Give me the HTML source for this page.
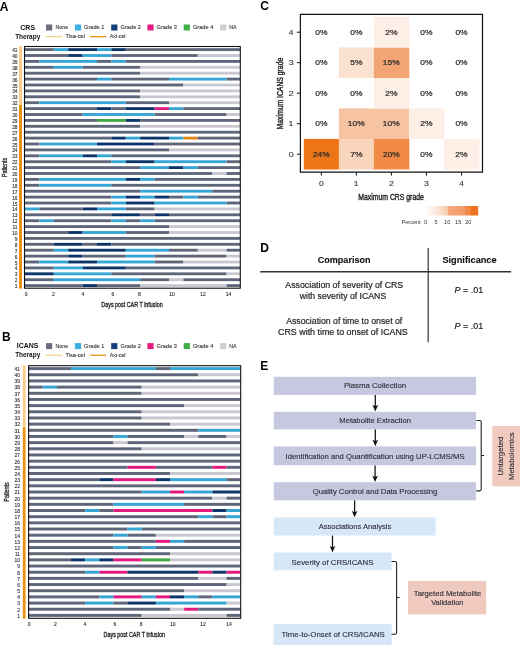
<!DOCTYPE html>
<html><head><meta charset="utf-8"><title>Figure</title>
<style>
html,body{margin:0;padding:0;background:#fff;}
body{width:520px;height:645px;overflow:hidden;font-family:"Liberation Sans", sans-serif;}
svg{display:block;will-change:transform;}
</style></head><body>
<svg width="520" height="645" viewBox="0 0 520 645" font-family='"Liberation Sans", sans-serif'>
<rect width="520" height="645" fill="#ffffff"/>
<clipPath id="clipA"><rect x="24.5" y="46.5" width="215.8" height="241.7"/></clipPath>
<g clip-path="url(#clipA)">
<rect x="25.00" y="48.18" width="28.80" height="2.85" fill="#60667a"/>
<rect x="53.80" y="48.18" width="14.40" height="2.85" fill="#35a5d5"/>
<rect x="68.20" y="48.18" width="28.80" height="2.85" fill="#0c3468"/>
<rect x="97.00" y="48.18" width="14.40" height="2.85" fill="#35a5d5"/>
<rect x="111.40" y="48.18" width="14.40" height="2.85" fill="#0c3468"/>
<rect x="125.80" y="48.18" width="115.20" height="2.85" fill="#60667a"/>
<rect x="25.00" y="54.08" width="43.20" height="2.85" fill="#60667a"/>
<rect x="68.20" y="54.08" width="14.40" height="2.85" fill="#0c3468"/>
<rect x="82.60" y="54.08" width="28.80" height="2.85" fill="#35a5d5"/>
<rect x="111.40" y="54.08" width="86.40" height="2.85" fill="#60667a"/>
<rect x="197.80" y="54.08" width="43.20" height="2.85" fill="#c9c7d0"/>
<rect x="25.00" y="59.98" width="14.40" height="2.85" fill="#60667a"/>
<rect x="39.40" y="59.98" width="57.60" height="2.85" fill="#35a5d5"/>
<rect x="97.00" y="59.98" width="14.40" height="2.85" fill="#60667a"/>
<rect x="111.40" y="59.98" width="14.40" height="2.85" fill="#35a5d5"/>
<rect x="125.80" y="59.98" width="115.20" height="2.85" fill="#60667a"/>
<rect x="25.00" y="65.88" width="28.80" height="2.85" fill="#60667a"/>
<rect x="53.80" y="65.88" width="28.80" height="2.85" fill="#35a5d5"/>
<rect x="82.60" y="65.88" width="57.60" height="2.85" fill="#60667a"/>
<rect x="140.20" y="65.88" width="100.80" height="2.85" fill="#c9c7d0"/>
<rect x="25.00" y="71.78" width="115.20" height="2.85" fill="#60667a"/>
<rect x="140.20" y="71.78" width="100.80" height="2.85" fill="#c9c7d0"/>
<rect x="25.00" y="77.67" width="72.00" height="2.85" fill="#60667a"/>
<rect x="97.00" y="77.67" width="14.40" height="2.85" fill="#35a5d5"/>
<rect x="111.40" y="77.67" width="57.60" height="2.85" fill="#60667a"/>
<rect x="169.00" y="77.67" width="57.60" height="2.85" fill="#35a5d5"/>
<rect x="226.60" y="77.67" width="14.40" height="2.85" fill="#60667a"/>
<rect x="25.00" y="83.58" width="158.40" height="2.85" fill="#60667a"/>
<rect x="183.40" y="83.58" width="57.60" height="2.85" fill="#c9c7d0"/>
<rect x="25.00" y="89.48" width="115.20" height="2.85" fill="#60667a"/>
<rect x="140.20" y="89.48" width="100.80" height="2.85" fill="#c9c7d0"/>
<rect x="25.00" y="95.38" width="115.20" height="2.85" fill="#60667a"/>
<rect x="140.20" y="95.38" width="100.80" height="2.85" fill="#c9c7d0"/>
<rect x="25.00" y="101.28" width="14.40" height="2.85" fill="#60667a"/>
<rect x="39.40" y="101.28" width="86.40" height="2.85" fill="#35a5d5"/>
<rect x="125.80" y="101.28" width="43.20" height="2.85" fill="#60667a"/>
<rect x="169.00" y="101.28" width="72.00" height="2.85" fill="#c9c7d0"/>
<rect x="25.00" y="107.17" width="72.00" height="2.85" fill="#60667a"/>
<rect x="97.00" y="107.17" width="14.40" height="2.85" fill="#0c3468"/>
<rect x="111.40" y="107.17" width="14.40" height="2.85" fill="#60667a"/>
<rect x="125.80" y="107.17" width="28.80" height="2.85" fill="#0c3468"/>
<rect x="154.60" y="107.17" width="14.40" height="2.85" fill="#e3197e"/>
<rect x="169.00" y="107.17" width="14.40" height="2.85" fill="#35a5d5"/>
<rect x="183.40" y="107.17" width="57.60" height="2.85" fill="#60667a"/>
<rect x="25.00" y="113.08" width="57.60" height="2.85" fill="#60667a"/>
<rect x="82.60" y="113.08" width="72.00" height="2.85" fill="#35a5d5"/>
<rect x="154.60" y="113.08" width="72.00" height="2.85" fill="#60667a"/>
<rect x="226.60" y="113.08" width="14.40" height="2.85" fill="#c9c7d0"/>
<rect x="25.00" y="118.98" width="72.00" height="2.85" fill="#60667a"/>
<rect x="97.00" y="118.98" width="28.80" height="2.85" fill="#3fa843"/>
<rect x="125.80" y="118.98" width="14.40" height="2.85" fill="#0c3468"/>
<rect x="140.20" y="118.98" width="100.80" height="2.85" fill="#60667a"/>
<rect x="25.00" y="124.88" width="115.20" height="2.85" fill="#60667a"/>
<rect x="140.20" y="124.88" width="100.80" height="2.85" fill="#c9c7d0"/>
<rect x="25.00" y="130.78" width="216.00" height="2.85" fill="#60667a"/>
<rect x="25.00" y="136.67" width="86.40" height="2.85" fill="#60667a"/>
<rect x="111.40" y="136.67" width="14.40" height="2.85" fill="#0c3468"/>
<rect x="125.80" y="136.67" width="14.40" height="2.85" fill="#35a5d5"/>
<rect x="140.20" y="136.67" width="28.80" height="2.85" fill="#0c3468"/>
<rect x="169.00" y="136.67" width="14.40" height="2.85" fill="#35a5d5"/>
<rect x="183.40" y="136.67" width="14.40" height="2.85" fill="#e0861a"/>
<rect x="197.80" y="136.67" width="43.20" height="2.85" fill="#60667a"/>
<rect x="25.00" y="142.57" width="14.40" height="2.85" fill="#60667a"/>
<rect x="39.40" y="142.57" width="57.60" height="2.85" fill="#35a5d5"/>
<rect x="97.00" y="142.57" width="57.60" height="2.85" fill="#0c3468"/>
<rect x="154.60" y="142.57" width="86.40" height="2.85" fill="#60667a"/>
<rect x="25.00" y="148.47" width="144.00" height="2.85" fill="#60667a"/>
<rect x="169.00" y="148.47" width="72.00" height="2.85" fill="#c9c7d0"/>
<rect x="25.00" y="154.38" width="14.40" height="2.85" fill="#60667a"/>
<rect x="39.40" y="154.38" width="43.20" height="2.85" fill="#35a5d5"/>
<rect x="82.60" y="154.38" width="14.40" height="2.85" fill="#0c3468"/>
<rect x="97.00" y="154.38" width="14.40" height="2.85" fill="#35a5d5"/>
<rect x="111.40" y="154.38" width="129.60" height="2.85" fill="#60667a"/>
<rect x="25.00" y="160.28" width="86.40" height="2.85" fill="#60667a"/>
<rect x="111.40" y="160.28" width="14.40" height="2.85" fill="#35a5d5"/>
<rect x="125.80" y="160.28" width="28.80" height="2.85" fill="#0c3468"/>
<rect x="154.60" y="160.28" width="72.00" height="2.85" fill="#35a5d5"/>
<rect x="226.60" y="160.28" width="14.40" height="2.85" fill="#60667a"/>
<rect x="25.00" y="166.17" width="115.20" height="2.85" fill="#60667a"/>
<rect x="140.20" y="166.17" width="28.80" height="2.85" fill="#35a5d5"/>
<rect x="169.00" y="166.17" width="14.40" height="2.85" fill="#0c3468"/>
<rect x="183.40" y="166.17" width="14.40" height="2.85" fill="#35a5d5"/>
<rect x="197.80" y="166.17" width="43.20" height="2.85" fill="#60667a"/>
<rect x="25.00" y="172.07" width="187.20" height="2.85" fill="#60667a"/>
<rect x="212.20" y="172.07" width="14.40" height="2.85" fill="#c9c7d0"/>
<rect x="226.60" y="172.07" width="14.40" height="2.85" fill="#60667a"/>
<rect x="25.00" y="177.97" width="14.40" height="2.85" fill="#60667a"/>
<rect x="39.40" y="177.97" width="86.40" height="2.85" fill="#35a5d5"/>
<rect x="125.80" y="177.97" width="14.40" height="2.85" fill="#0c3468"/>
<rect x="140.20" y="177.97" width="14.40" height="2.85" fill="#35a5d5"/>
<rect x="154.60" y="177.97" width="86.40" height="2.85" fill="#60667a"/>
<rect x="25.00" y="183.88" width="14.40" height="2.85" fill="#60667a"/>
<rect x="39.40" y="183.88" width="72.00" height="2.85" fill="#35a5d5"/>
<rect x="111.40" y="183.88" width="129.60" height="2.85" fill="#60667a"/>
<rect x="25.00" y="189.78" width="115.20" height="2.85" fill="#60667a"/>
<rect x="140.20" y="189.78" width="72.00" height="2.85" fill="#35a5d5"/>
<rect x="212.20" y="189.78" width="28.80" height="2.85" fill="#60667a"/>
<rect x="25.00" y="195.67" width="86.40" height="2.85" fill="#60667a"/>
<rect x="111.40" y="195.67" width="14.40" height="2.85" fill="#35a5d5"/>
<rect x="125.80" y="195.67" width="14.40" height="2.85" fill="#0c3468"/>
<rect x="140.20" y="195.67" width="14.40" height="2.85" fill="#35a5d5"/>
<rect x="154.60" y="195.67" width="14.40" height="2.85" fill="#0c3468"/>
<rect x="169.00" y="195.67" width="14.40" height="2.85" fill="#60667a"/>
<rect x="183.40" y="195.67" width="14.40" height="2.85" fill="#35a5d5"/>
<rect x="197.80" y="195.67" width="43.20" height="2.85" fill="#60667a"/>
<rect x="25.00" y="201.57" width="86.40" height="2.85" fill="#60667a"/>
<rect x="111.40" y="201.57" width="14.40" height="2.85" fill="#35a5d5"/>
<rect x="125.80" y="201.57" width="28.80" height="2.85" fill="#0c3468"/>
<rect x="154.60" y="201.57" width="72.00" height="2.85" fill="#35a5d5"/>
<rect x="226.60" y="201.57" width="14.40" height="2.85" fill="#60667a"/>
<rect x="25.00" y="207.47" width="14.40" height="2.85" fill="#35a5d5"/>
<rect x="39.40" y="207.47" width="43.20" height="2.85" fill="#60667a"/>
<rect x="82.60" y="207.47" width="14.40" height="2.85" fill="#0c3468"/>
<rect x="97.00" y="207.47" width="28.80" height="2.85" fill="#35a5d5"/>
<rect x="125.80" y="207.47" width="28.80" height="2.85" fill="#60667a"/>
<rect x="154.60" y="207.47" width="86.40" height="2.85" fill="#c9c7d0"/>
<rect x="25.00" y="213.38" width="86.40" height="2.85" fill="#60667a"/>
<rect x="111.40" y="213.38" width="28.80" height="2.85" fill="#0c3468"/>
<rect x="140.20" y="213.38" width="14.40" height="2.85" fill="#60667a"/>
<rect x="154.60" y="213.38" width="14.40" height="2.85" fill="#0c3468"/>
<rect x="169.00" y="213.38" width="72.00" height="2.85" fill="#60667a"/>
<rect x="25.00" y="219.28" width="14.40" height="2.85" fill="#60667a"/>
<rect x="39.40" y="219.28" width="14.40" height="2.85" fill="#35a5d5"/>
<rect x="53.80" y="219.28" width="57.60" height="2.85" fill="#60667a"/>
<rect x="111.40" y="219.28" width="14.40" height="2.85" fill="#35a5d5"/>
<rect x="125.80" y="219.28" width="14.40" height="2.85" fill="#60667a"/>
<rect x="140.20" y="219.28" width="14.40" height="2.85" fill="#35a5d5"/>
<rect x="154.60" y="219.28" width="86.40" height="2.85" fill="#60667a"/>
<rect x="25.00" y="225.17" width="144.00" height="2.85" fill="#60667a"/>
<rect x="169.00" y="225.17" width="72.00" height="2.85" fill="#c9c7d0"/>
<rect x="25.00" y="231.07" width="43.20" height="2.85" fill="#60667a"/>
<rect x="68.20" y="231.07" width="14.40" height="2.85" fill="#0c3468"/>
<rect x="82.60" y="231.07" width="43.20" height="2.85" fill="#35a5d5"/>
<rect x="125.80" y="231.07" width="43.20" height="2.85" fill="#60667a"/>
<rect x="169.00" y="231.07" width="72.00" height="2.85" fill="#c9c7d0"/>
<rect x="25.00" y="236.97" width="216.00" height="2.85" fill="#60667a"/>
<rect x="25.00" y="242.88" width="28.80" height="2.85" fill="#60667a"/>
<rect x="53.80" y="242.88" width="28.80" height="2.85" fill="#0c3468"/>
<rect x="82.60" y="242.88" width="14.40" height="2.85" fill="#60667a"/>
<rect x="97.00" y="242.88" width="14.40" height="2.85" fill="#0c3468"/>
<rect x="111.40" y="242.88" width="129.60" height="2.85" fill="#60667a"/>
<rect x="25.00" y="248.78" width="28.80" height="2.85" fill="#60667a"/>
<rect x="53.80" y="248.78" width="14.40" height="2.85" fill="#35a5d5"/>
<rect x="68.20" y="248.78" width="57.60" height="2.85" fill="#0c3468"/>
<rect x="125.80" y="248.78" width="43.20" height="2.85" fill="#35a5d5"/>
<rect x="169.00" y="248.78" width="28.80" height="2.85" fill="#60667a"/>
<rect x="197.80" y="248.78" width="28.80" height="2.85" fill="#c9c7d0"/>
<rect x="226.60" y="248.78" width="14.40" height="2.85" fill="#60667a"/>
<rect x="25.00" y="254.68" width="43.20" height="2.85" fill="#60667a"/>
<rect x="68.20" y="254.68" width="14.40" height="2.85" fill="#0c3468"/>
<rect x="82.60" y="254.68" width="43.20" height="2.85" fill="#60667a"/>
<rect x="125.80" y="254.68" width="28.80" height="2.85" fill="#35a5d5"/>
<rect x="154.60" y="254.68" width="72.00" height="2.85" fill="#60667a"/>
<rect x="226.60" y="254.68" width="14.40" height="2.85" fill="#c9c7d0"/>
<rect x="25.00" y="260.57" width="14.40" height="2.85" fill="#60667a"/>
<rect x="39.40" y="260.57" width="28.80" height="2.85" fill="#35a5d5"/>
<rect x="68.20" y="260.57" width="28.80" height="2.85" fill="#0c3468"/>
<rect x="97.00" y="260.57" width="57.60" height="2.85" fill="#35a5d5"/>
<rect x="154.60" y="260.57" width="28.80" height="2.85" fill="#60667a"/>
<rect x="183.40" y="260.57" width="57.60" height="2.85" fill="#c9c7d0"/>
<rect x="25.00" y="266.48" width="28.80" height="2.85" fill="#60667a"/>
<rect x="53.80" y="266.48" width="28.80" height="2.85" fill="#35a5d5"/>
<rect x="82.60" y="266.48" width="43.20" height="2.85" fill="#0c3468"/>
<rect x="125.80" y="266.48" width="115.20" height="2.85" fill="#60667a"/>
<rect x="25.00" y="272.38" width="28.80" height="2.85" fill="#0c3468"/>
<rect x="53.80" y="272.38" width="57.60" height="2.85" fill="#35a5d5"/>
<rect x="111.40" y="272.38" width="115.20" height="2.85" fill="#60667a"/>
<rect x="226.60" y="272.38" width="14.40" height="2.85" fill="#c9c7d0"/>
<rect x="25.00" y="278.28" width="28.80" height="2.85" fill="#60667a"/>
<rect x="53.80" y="278.28" width="86.40" height="2.85" fill="#35a5d5"/>
<rect x="140.20" y="278.28" width="28.80" height="2.85" fill="#60667a"/>
<rect x="169.00" y="278.28" width="14.40" height="2.85" fill="#c9c7d0"/>
<rect x="183.40" y="278.28" width="57.60" height="2.85" fill="#60667a"/>
<rect x="25.00" y="284.18" width="57.60" height="2.85" fill="#60667a"/>
<rect x="82.60" y="284.18" width="14.40" height="2.85" fill="#0c3468"/>
<rect x="97.00" y="284.18" width="43.20" height="2.85" fill="#60667a"/>
<rect x="140.20" y="284.18" width="86.40" height="2.85" fill="#c9c7d0"/>
<rect x="226.60" y="284.18" width="14.40" height="2.85" fill="#60667a"/>
</g>
<rect x="24.5" y="46.5" width="215.8" height="241.7" fill="none" stroke="#111" stroke-width="1.1"/>
<rect x="19.0" y="46.1" width="3.0" height="58.9" fill="#f7cd88"/>
<rect x="19.0" y="105.0" width="3.0" height="183.6" fill="#e99314"/>
<text x="17.60" y="288.15" font-size="4.9" text-anchor="end" fill="#333" stroke="#333" stroke-width="0.12">1</text>
<text x="17.60" y="282.25" font-size="4.9" text-anchor="end" fill="#333" stroke="#333" stroke-width="0.12">2</text>
<text x="17.60" y="276.35" font-size="4.9" text-anchor="end" fill="#333" stroke="#333" stroke-width="0.12">3</text>
<text x="17.60" y="270.45" font-size="4.9" text-anchor="end" fill="#333" stroke="#333" stroke-width="0.12">4</text>
<text x="17.60" y="264.55" font-size="4.9" text-anchor="end" fill="#333" stroke="#333" stroke-width="0.12">5</text>
<text x="17.60" y="258.65" font-size="4.9" text-anchor="end" fill="#333" stroke="#333" stroke-width="0.12">6</text>
<text x="17.60" y="252.75" font-size="4.9" text-anchor="end" fill="#333" stroke="#333" stroke-width="0.12">7</text>
<text x="17.60" y="246.85" font-size="4.9" text-anchor="end" fill="#333" stroke="#333" stroke-width="0.12">8</text>
<text x="17.60" y="240.95" font-size="4.9" text-anchor="end" fill="#333" stroke="#333" stroke-width="0.12">9</text>
<text x="17.60" y="235.05" font-size="4.9" text-anchor="end" fill="#333" stroke="#333" stroke-width="0.12">10</text>
<text x="17.60" y="229.15" font-size="4.9" text-anchor="end" fill="#333" stroke="#333" stroke-width="0.12">11</text>
<text x="17.60" y="223.25" font-size="4.9" text-anchor="end" fill="#333" stroke="#333" stroke-width="0.12">12</text>
<text x="17.60" y="217.35" font-size="4.9" text-anchor="end" fill="#333" stroke="#333" stroke-width="0.12">13</text>
<text x="17.60" y="211.45" font-size="4.9" text-anchor="end" fill="#333" stroke="#333" stroke-width="0.12">14</text>
<text x="17.60" y="205.55" font-size="4.9" text-anchor="end" fill="#333" stroke="#333" stroke-width="0.12">15</text>
<text x="17.60" y="199.65" font-size="4.9" text-anchor="end" fill="#333" stroke="#333" stroke-width="0.12">16</text>
<text x="17.60" y="193.75" font-size="4.9" text-anchor="end" fill="#333" stroke="#333" stroke-width="0.12">17</text>
<text x="17.60" y="187.85" font-size="4.9" text-anchor="end" fill="#333" stroke="#333" stroke-width="0.12">18</text>
<text x="17.60" y="181.95" font-size="4.9" text-anchor="end" fill="#333" stroke="#333" stroke-width="0.12">19</text>
<text x="17.60" y="176.05" font-size="4.9" text-anchor="end" fill="#333" stroke="#333" stroke-width="0.12">20</text>
<text x="17.60" y="170.15" font-size="4.9" text-anchor="end" fill="#333" stroke="#333" stroke-width="0.12">21</text>
<text x="17.60" y="164.25" font-size="4.9" text-anchor="end" fill="#333" stroke="#333" stroke-width="0.12">22</text>
<text x="17.60" y="158.35" font-size="4.9" text-anchor="end" fill="#333" stroke="#333" stroke-width="0.12">23</text>
<text x="17.60" y="152.45" font-size="4.9" text-anchor="end" fill="#333" stroke="#333" stroke-width="0.12">24</text>
<text x="17.60" y="146.55" font-size="4.9" text-anchor="end" fill="#333" stroke="#333" stroke-width="0.12">25</text>
<text x="17.60" y="140.65" font-size="4.9" text-anchor="end" fill="#333" stroke="#333" stroke-width="0.12">26</text>
<text x="17.60" y="134.75" font-size="4.9" text-anchor="end" fill="#333" stroke="#333" stroke-width="0.12">27</text>
<text x="17.60" y="128.85" font-size="4.9" text-anchor="end" fill="#333" stroke="#333" stroke-width="0.12">28</text>
<text x="17.60" y="122.95" font-size="4.9" text-anchor="end" fill="#333" stroke="#333" stroke-width="0.12">29</text>
<text x="17.60" y="117.05" font-size="4.9" text-anchor="end" fill="#333" stroke="#333" stroke-width="0.12">30</text>
<text x="17.60" y="111.15" font-size="4.9" text-anchor="end" fill="#333" stroke="#333" stroke-width="0.12">31</text>
<text x="17.60" y="105.25" font-size="4.9" text-anchor="end" fill="#333" stroke="#333" stroke-width="0.12">32</text>
<text x="17.60" y="99.35" font-size="4.9" text-anchor="end" fill="#333" stroke="#333" stroke-width="0.12">33</text>
<text x="17.60" y="93.45" font-size="4.9" text-anchor="end" fill="#333" stroke="#333" stroke-width="0.12">34</text>
<text x="17.60" y="87.55" font-size="4.9" text-anchor="end" fill="#333" stroke="#333" stroke-width="0.12">35</text>
<text x="17.60" y="81.65" font-size="4.9" text-anchor="end" fill="#333" stroke="#333" stroke-width="0.12">36</text>
<text x="17.60" y="75.75" font-size="4.9" text-anchor="end" fill="#333" stroke="#333" stroke-width="0.12">37</text>
<text x="17.60" y="69.85" font-size="4.9" text-anchor="end" fill="#333" stroke="#333" stroke-width="0.12">38</text>
<text x="17.60" y="63.95" font-size="4.9" text-anchor="end" fill="#333" stroke="#333" stroke-width="0.12">39</text>
<text x="17.60" y="58.05" font-size="4.9" text-anchor="end" fill="#333" stroke="#333" stroke-width="0.12">40</text>
<text x="17.60" y="52.15" font-size="4.9" text-anchor="end" fill="#333" stroke="#333" stroke-width="0.12">41</text>
<text x="26.20" y="296.20" font-size="5.0" text-anchor="middle" fill="#333" stroke="#333" stroke-width="0.12">0</text>
<text x="53.50" y="296.20" font-size="5.0" text-anchor="middle" fill="#333" stroke="#333" stroke-width="0.12">2</text>
<text x="83.00" y="296.20" font-size="5.0" text-anchor="middle" fill="#333" stroke="#333" stroke-width="0.12">4</text>
<text x="113.00" y="296.20" font-size="5.0" text-anchor="middle" fill="#333" stroke="#333" stroke-width="0.12">6</text>
<text x="139.50" y="296.20" font-size="5.0" text-anchor="middle" fill="#333" stroke="#333" stroke-width="0.12">8</text>
<text x="172.00" y="296.20" font-size="5.0" text-anchor="middle" fill="#333" stroke="#333" stroke-width="0.12">10</text>
<text x="203.00" y="296.20" font-size="5.0" text-anchor="middle" fill="#333" stroke="#333" stroke-width="0.12">12</text>
<text x="228.50" y="296.20" font-size="5.0" text-anchor="middle" fill="#333" stroke="#333" stroke-width="0.12">14</text>
<text x="101.37" y="306.80" font-size="7.0" textLength="61.29" lengthAdjust="spacingAndGlyphs" fill="#222" stroke="#222" stroke-width="0.3">Days post CAR T infusion</text>
<text x="-0.43" y="0" font-size="8.0" textLength="19.31" lengthAdjust="spacingAndGlyphs" transform="translate(7.00,176.70) rotate(-90)" fill="#222" stroke="#222" stroke-width="0.3">Patients</text>
<text x="-0.20" y="10.70" font-size="12" text-anchor="start" font-weight="bold" fill="#000">A</text>
<text x="20.32" y="29.80" font-size="6.6" textLength="14.73" lengthAdjust="spacingAndGlyphs" font-weight="bold" fill="#111">CRS</text>
<text x="15.14" y="38.80" font-size="6.6" textLength="25.10" lengthAdjust="spacingAndGlyphs" font-weight="bold" fill="#111">Therapy</text>
<rect x="46.0" y="24.50" width="6.2" height="6" fill="#6b6c7e"/>
<text x="55.47" y="29.20" font-size="5.6" textLength="12.77" lengthAdjust="spacingAndGlyphs" fill="#333" stroke="#333" stroke-width="0.1">None</text>
<rect x="74.9" y="24.50" width="6.2" height="6" fill="#3eb0e2"/>
<text x="84.12" y="29.20" font-size="5.6" textLength="20.15" lengthAdjust="spacingAndGlyphs" fill="#333" stroke="#333" stroke-width="0.1">Grade 1</text>
<rect x="111.2" y="24.50" width="6.2" height="6" fill="#123f7a"/>
<text x="120.62" y="29.20" font-size="5.6" textLength="20.38" lengthAdjust="spacingAndGlyphs" fill="#333" stroke="#333" stroke-width="0.1">Grade 2</text>
<rect x="147.4" y="24.50" width="6.2" height="6" fill="#e5197f"/>
<text x="156.62" y="29.20" font-size="5.6" textLength="20.35" lengthAdjust="spacingAndGlyphs" fill="#333" stroke="#333" stroke-width="0.1">Grade 3</text>
<rect x="183.7" y="24.50" width="6.2" height="6" fill="#3fae45"/>
<text x="192.92" y="29.20" font-size="5.6" textLength="20.37" lengthAdjust="spacingAndGlyphs" fill="#333" stroke="#333" stroke-width="0.1">Grade 4</text>
<rect x="220.1" y="24.50" width="6.2" height="6" fill="#cfcfd4"/>
<text x="229.17" y="29.20" font-size="5.6" textLength="7.45" lengthAdjust="spacingAndGlyphs" fill="#333" stroke="#333" stroke-width="0.1">NA</text>
<rect x="45.8" y="36.00" width="16.7" height="1.25" fill="#f5cf8b"/>
<text x="65.49" y="38.20" font-size="5.6" textLength="19.50" lengthAdjust="spacingAndGlyphs" fill="#333" stroke="#333" stroke-width="0.1">Tisa-cel</text>
<rect x="90.2" y="36.00" width="16" height="1.25" fill="#e8900f"/>
<text x="109.67" y="38.20" font-size="5.6" textLength="15.87" lengthAdjust="spacingAndGlyphs" fill="#333" stroke="#333" stroke-width="0.1">Axi-cel</text>
<clipPath id="clipB"><rect x="28.6" y="365.7" width="212.1" height="252.59999999999997"/></clipPath>
<g clip-path="url(#clipB)">
<rect x="28.60" y="367.12" width="42.42" height="2.95" fill="#60667a"/>
<rect x="71.02" y="367.12" width="84.84" height="2.95" fill="#35a5d5"/>
<rect x="155.86" y="367.12" width="14.14" height="2.95" fill="#60667a"/>
<rect x="170.00" y="367.12" width="70.70" height="2.95" fill="#35a5d5"/>
<rect x="28.60" y="373.30" width="169.68" height="2.95" fill="#60667a"/>
<rect x="198.28" y="373.30" width="42.42" height="2.95" fill="#c9c7d0"/>
<rect x="28.60" y="379.46" width="212.10" height="2.95" fill="#60667a"/>
<rect x="28.60" y="385.63" width="14.14" height="2.95" fill="#60667a"/>
<rect x="42.74" y="385.63" width="14.14" height="2.95" fill="#35a5d5"/>
<rect x="56.88" y="385.63" width="84.84" height="2.95" fill="#60667a"/>
<rect x="141.72" y="385.63" width="98.98" height="2.95" fill="#c9c7d0"/>
<rect x="28.60" y="391.81" width="113.12" height="2.95" fill="#60667a"/>
<rect x="141.72" y="391.81" width="98.98" height="2.95" fill="#c9c7d0"/>
<rect x="28.60" y="397.98" width="212.10" height="2.95" fill="#60667a"/>
<rect x="28.60" y="404.14" width="155.54" height="2.95" fill="#60667a"/>
<rect x="184.14" y="404.14" width="56.56" height="2.95" fill="#c9c7d0"/>
<rect x="28.60" y="410.31" width="113.12" height="2.95" fill="#60667a"/>
<rect x="141.72" y="410.31" width="98.98" height="2.95" fill="#c9c7d0"/>
<rect x="28.60" y="416.49" width="113.12" height="2.95" fill="#60667a"/>
<rect x="141.72" y="416.49" width="98.98" height="2.95" fill="#c9c7d0"/>
<rect x="28.60" y="422.65" width="141.40" height="2.95" fill="#60667a"/>
<rect x="170.00" y="422.65" width="70.70" height="2.95" fill="#c9c7d0"/>
<rect x="28.60" y="428.82" width="169.68" height="2.95" fill="#60667a"/>
<rect x="198.28" y="428.82" width="42.42" height="2.95" fill="#35a5d5"/>
<rect x="28.60" y="435.00" width="84.84" height="2.95" fill="#60667a"/>
<rect x="113.44" y="435.00" width="14.14" height="2.95" fill="#35a5d5"/>
<rect x="127.58" y="435.00" width="56.56" height="2.95" fill="#60667a"/>
<rect x="184.14" y="435.00" width="14.14" height="2.95" fill="#c9c7d0"/>
<rect x="198.28" y="435.00" width="28.28" height="2.95" fill="#60667a"/>
<rect x="226.56" y="435.00" width="14.14" height="2.95" fill="#c9c7d0"/>
<rect x="28.60" y="441.16" width="84.84" height="2.95" fill="#60667a"/>
<rect x="113.44" y="441.16" width="14.14" height="2.95" fill="#c9c7d0"/>
<rect x="127.58" y="441.16" width="113.12" height="2.95" fill="#60667a"/>
<rect x="28.60" y="447.33" width="113.12" height="2.95" fill="#60667a"/>
<rect x="141.72" y="447.33" width="98.98" height="2.95" fill="#c9c7d0"/>
<rect x="28.60" y="453.50" width="212.10" height="2.95" fill="#60667a"/>
<rect x="28.60" y="459.68" width="212.10" height="2.95" fill="#60667a"/>
<rect x="28.60" y="465.85" width="98.98" height="2.95" fill="#60667a"/>
<rect x="127.58" y="465.85" width="28.28" height="2.95" fill="#e3197e"/>
<rect x="155.86" y="465.85" width="56.56" height="2.95" fill="#60667a"/>
<rect x="212.42" y="465.85" width="14.14" height="2.95" fill="#e3197e"/>
<rect x="226.56" y="465.85" width="14.14" height="2.95" fill="#60667a"/>
<rect x="28.60" y="472.01" width="141.40" height="2.95" fill="#60667a"/>
<rect x="170.00" y="472.01" width="70.70" height="2.95" fill="#c9c7d0"/>
<rect x="28.60" y="478.19" width="70.70" height="2.95" fill="#60667a"/>
<rect x="99.30" y="478.19" width="14.14" height="2.95" fill="#0c3468"/>
<rect x="113.44" y="478.19" width="42.42" height="2.95" fill="#e3197e"/>
<rect x="155.86" y="478.19" width="14.14" height="2.95" fill="#0c3468"/>
<rect x="170.00" y="478.19" width="56.56" height="2.95" fill="#35a5d5"/>
<rect x="226.56" y="478.19" width="14.14" height="2.95" fill="#60667a"/>
<rect x="28.60" y="484.36" width="212.10" height="2.95" fill="#60667a"/>
<rect x="28.60" y="490.52" width="113.12" height="2.95" fill="#60667a"/>
<rect x="141.72" y="490.52" width="28.28" height="2.95" fill="#35a5d5"/>
<rect x="170.00" y="490.52" width="14.14" height="2.95" fill="#e3197e"/>
<rect x="184.14" y="490.52" width="28.28" height="2.95" fill="#35a5d5"/>
<rect x="212.42" y="490.52" width="28.28" height="2.95" fill="#0c3468"/>
<rect x="28.60" y="496.69" width="183.82" height="2.95" fill="#60667a"/>
<rect x="212.42" y="496.69" width="14.14" height="2.95" fill="#c9c7d0"/>
<rect x="226.56" y="496.69" width="14.14" height="2.95" fill="#60667a"/>
<rect x="28.60" y="502.87" width="84.84" height="2.95" fill="#60667a"/>
<rect x="113.44" y="502.87" width="70.70" height="2.95" fill="#35a5d5"/>
<rect x="184.14" y="502.87" width="56.56" height="2.95" fill="#60667a"/>
<rect x="28.60" y="509.03" width="56.56" height="2.95" fill="#60667a"/>
<rect x="85.16" y="509.03" width="14.14" height="2.95" fill="#35a5d5"/>
<rect x="99.30" y="509.03" width="14.14" height="2.95" fill="#60667a"/>
<rect x="113.44" y="509.03" width="98.98" height="2.95" fill="#e3197e"/>
<rect x="212.42" y="509.03" width="14.14" height="2.95" fill="#0c3468"/>
<rect x="226.56" y="509.03" width="14.14" height="2.95" fill="#35a5d5"/>
<rect x="28.60" y="515.21" width="169.68" height="2.95" fill="#60667a"/>
<rect x="198.28" y="515.21" width="14.14" height="2.95" fill="#35a5d5"/>
<rect x="212.42" y="515.21" width="14.14" height="2.95" fill="#60667a"/>
<rect x="226.56" y="515.21" width="14.14" height="2.95" fill="#35a5d5"/>
<rect x="28.60" y="521.38" width="212.10" height="2.95" fill="#60667a"/>
<rect x="28.60" y="527.54" width="98.98" height="2.95" fill="#60667a"/>
<rect x="127.58" y="527.54" width="14.14" height="2.95" fill="#35a5d5"/>
<rect x="141.72" y="527.54" width="98.98" height="2.95" fill="#60667a"/>
<rect x="28.60" y="533.72" width="84.84" height="2.95" fill="#60667a"/>
<rect x="113.44" y="533.72" width="14.14" height="2.95" fill="#35a5d5"/>
<rect x="127.58" y="533.72" width="28.28" height="2.95" fill="#60667a"/>
<rect x="155.86" y="533.72" width="84.84" height="2.95" fill="#c9c7d0"/>
<rect x="28.60" y="539.88" width="127.26" height="2.95" fill="#60667a"/>
<rect x="155.86" y="539.88" width="14.14" height="2.95" fill="#e3197e"/>
<rect x="170.00" y="539.88" width="14.14" height="2.95" fill="#35a5d5"/>
<rect x="184.14" y="539.88" width="56.56" height="2.95" fill="#60667a"/>
<rect x="28.60" y="546.05" width="84.84" height="2.95" fill="#60667a"/>
<rect x="113.44" y="546.05" width="14.14" height="2.95" fill="#35a5d5"/>
<rect x="127.58" y="546.05" width="14.14" height="2.95" fill="#60667a"/>
<rect x="141.72" y="546.05" width="14.14" height="2.95" fill="#35a5d5"/>
<rect x="155.86" y="546.05" width="84.84" height="2.95" fill="#60667a"/>
<rect x="28.60" y="552.23" width="141.40" height="2.95" fill="#60667a"/>
<rect x="170.00" y="552.23" width="70.70" height="2.95" fill="#c9c7d0"/>
<rect x="28.60" y="558.39" width="42.42" height="2.95" fill="#60667a"/>
<rect x="71.02" y="558.39" width="14.14" height="2.95" fill="#0c3468"/>
<rect x="85.16" y="558.39" width="14.14" height="2.95" fill="#35a5d5"/>
<rect x="99.30" y="558.39" width="14.14" height="2.95" fill="#0c3468"/>
<rect x="113.44" y="558.39" width="28.28" height="2.95" fill="#e3197e"/>
<rect x="141.72" y="558.39" width="28.28" height="2.95" fill="#3fa843"/>
<rect x="170.00" y="558.39" width="70.70" height="2.95" fill="#c9c7d0"/>
<rect x="28.60" y="564.56" width="212.10" height="2.95" fill="#60667a"/>
<rect x="28.60" y="570.74" width="56.56" height="2.95" fill="#60667a"/>
<rect x="85.16" y="570.74" width="14.14" height="2.95" fill="#35a5d5"/>
<rect x="99.30" y="570.74" width="28.28" height="2.95" fill="#e3197e"/>
<rect x="127.58" y="570.74" width="70.70" height="2.95" fill="#0c3468"/>
<rect x="198.28" y="570.74" width="14.14" height="2.95" fill="#e3197e"/>
<rect x="212.42" y="570.74" width="14.14" height="2.95" fill="#0c3468"/>
<rect x="226.56" y="570.74" width="14.14" height="2.95" fill="#e3197e"/>
<rect x="28.60" y="576.90" width="169.68" height="2.95" fill="#60667a"/>
<rect x="198.28" y="576.90" width="28.28" height="2.95" fill="#c9c7d0"/>
<rect x="226.56" y="576.90" width="14.14" height="2.95" fill="#60667a"/>
<rect x="28.60" y="583.07" width="197.96" height="2.95" fill="#60667a"/>
<rect x="226.56" y="583.07" width="14.14" height="2.95" fill="#c9c7d0"/>
<rect x="28.60" y="589.25" width="155.54" height="2.95" fill="#60667a"/>
<rect x="184.14" y="589.25" width="56.56" height="2.95" fill="#c9c7d0"/>
<rect x="28.60" y="595.41" width="70.70" height="2.95" fill="#60667a"/>
<rect x="99.30" y="595.41" width="14.14" height="2.95" fill="#35a5d5"/>
<rect x="113.44" y="595.41" width="28.28" height="2.95" fill="#e3197e"/>
<rect x="141.72" y="595.41" width="14.14" height="2.95" fill="#35a5d5"/>
<rect x="155.86" y="595.41" width="14.14" height="2.95" fill="#e3197e"/>
<rect x="170.00" y="595.41" width="14.14" height="2.95" fill="#0c3468"/>
<rect x="184.14" y="595.41" width="14.14" height="2.95" fill="#35a5d5"/>
<rect x="198.28" y="595.41" width="14.14" height="2.95" fill="#60667a"/>
<rect x="212.42" y="595.41" width="28.28" height="2.95" fill="#35a5d5"/>
<rect x="28.60" y="601.59" width="56.56" height="2.95" fill="#60667a"/>
<rect x="85.16" y="601.59" width="28.28" height="2.95" fill="#35a5d5"/>
<rect x="113.44" y="601.59" width="14.14" height="2.95" fill="#60667a"/>
<rect x="127.58" y="601.59" width="28.28" height="2.95" fill="#0c3468"/>
<rect x="155.86" y="601.59" width="70.70" height="2.95" fill="#35a5d5"/>
<rect x="226.56" y="601.59" width="14.14" height="2.95" fill="#c9c7d0"/>
<rect x="28.60" y="607.75" width="141.40" height="2.95" fill="#60667a"/>
<rect x="170.00" y="607.75" width="14.14" height="2.95" fill="#c9c7d0"/>
<rect x="184.14" y="607.75" width="14.14" height="2.95" fill="#e3197e"/>
<rect x="198.28" y="607.75" width="42.42" height="2.95" fill="#60667a"/>
<rect x="28.60" y="613.93" width="113.12" height="2.95" fill="#60667a"/>
<rect x="141.72" y="613.93" width="84.84" height="2.95" fill="#c9c7d0"/>
<rect x="226.56" y="613.93" width="14.14" height="2.95" fill="#60667a"/>
</g>
<rect x="28.6" y="365.7" width="212.1" height="252.59999999999997" fill="none" stroke="#111" stroke-width="1.1"/>
<rect x="22.8" y="365.3" width="2.8000000000000007" height="62.00000000000002" fill="#f7cd88"/>
<rect x="22.8" y="427.3" width="2.8000000000000007" height="191.39999999999995" fill="#e99314"/>
<text x="20.00" y="617.75" font-size="4.9" text-anchor="end" fill="#333" stroke="#333" stroke-width="0.12">1</text>
<text x="20.00" y="611.58" font-size="4.9" text-anchor="end" fill="#333" stroke="#333" stroke-width="0.12">2</text>
<text x="20.00" y="605.41" font-size="4.9" text-anchor="end" fill="#333" stroke="#333" stroke-width="0.12">3</text>
<text x="20.00" y="599.24" font-size="4.9" text-anchor="end" fill="#333" stroke="#333" stroke-width="0.12">4</text>
<text x="20.00" y="593.07" font-size="4.9" text-anchor="end" fill="#333" stroke="#333" stroke-width="0.12">5</text>
<text x="20.00" y="586.90" font-size="4.9" text-anchor="end" fill="#333" stroke="#333" stroke-width="0.12">6</text>
<text x="20.00" y="580.73" font-size="4.9" text-anchor="end" fill="#333" stroke="#333" stroke-width="0.12">7</text>
<text x="20.00" y="574.56" font-size="4.9" text-anchor="end" fill="#333" stroke="#333" stroke-width="0.12">8</text>
<text x="20.00" y="568.39" font-size="4.9" text-anchor="end" fill="#333" stroke="#333" stroke-width="0.12">9</text>
<text x="20.00" y="562.22" font-size="4.9" text-anchor="end" fill="#333" stroke="#333" stroke-width="0.12">10</text>
<text x="20.00" y="556.05" font-size="4.9" text-anchor="end" fill="#333" stroke="#333" stroke-width="0.12">11</text>
<text x="20.00" y="549.88" font-size="4.9" text-anchor="end" fill="#333" stroke="#333" stroke-width="0.12">12</text>
<text x="20.00" y="543.71" font-size="4.9" text-anchor="end" fill="#333" stroke="#333" stroke-width="0.12">13</text>
<text x="20.00" y="537.54" font-size="4.9" text-anchor="end" fill="#333" stroke="#333" stroke-width="0.12">14</text>
<text x="20.00" y="531.37" font-size="4.9" text-anchor="end" fill="#333" stroke="#333" stroke-width="0.12">15</text>
<text x="20.00" y="525.20" font-size="4.9" text-anchor="end" fill="#333" stroke="#333" stroke-width="0.12">16</text>
<text x="20.00" y="519.03" font-size="4.9" text-anchor="end" fill="#333" stroke="#333" stroke-width="0.12">17</text>
<text x="20.00" y="512.86" font-size="4.9" text-anchor="end" fill="#333" stroke="#333" stroke-width="0.12">18</text>
<text x="20.00" y="506.69" font-size="4.9" text-anchor="end" fill="#333" stroke="#333" stroke-width="0.12">19</text>
<text x="20.00" y="500.52" font-size="4.9" text-anchor="end" fill="#333" stroke="#333" stroke-width="0.12">20</text>
<text x="20.00" y="494.35" font-size="4.9" text-anchor="end" fill="#333" stroke="#333" stroke-width="0.12">21</text>
<text x="20.00" y="488.18" font-size="4.9" text-anchor="end" fill="#333" stroke="#333" stroke-width="0.12">22</text>
<text x="20.00" y="482.01" font-size="4.9" text-anchor="end" fill="#333" stroke="#333" stroke-width="0.12">23</text>
<text x="20.00" y="475.84" font-size="4.9" text-anchor="end" fill="#333" stroke="#333" stroke-width="0.12">24</text>
<text x="20.00" y="469.67" font-size="4.9" text-anchor="end" fill="#333" stroke="#333" stroke-width="0.12">25</text>
<text x="20.00" y="463.50" font-size="4.9" text-anchor="end" fill="#333" stroke="#333" stroke-width="0.12">26</text>
<text x="20.00" y="457.33" font-size="4.9" text-anchor="end" fill="#333" stroke="#333" stroke-width="0.12">27</text>
<text x="20.00" y="451.16" font-size="4.9" text-anchor="end" fill="#333" stroke="#333" stroke-width="0.12">28</text>
<text x="20.00" y="444.99" font-size="4.9" text-anchor="end" fill="#333" stroke="#333" stroke-width="0.12">29</text>
<text x="20.00" y="438.82" font-size="4.9" text-anchor="end" fill="#333" stroke="#333" stroke-width="0.12">30</text>
<text x="20.00" y="432.65" font-size="4.9" text-anchor="end" fill="#333" stroke="#333" stroke-width="0.12">31</text>
<text x="20.00" y="426.48" font-size="4.9" text-anchor="end" fill="#333" stroke="#333" stroke-width="0.12">32</text>
<text x="20.00" y="420.31" font-size="4.9" text-anchor="end" fill="#333" stroke="#333" stroke-width="0.12">33</text>
<text x="20.00" y="414.14" font-size="4.9" text-anchor="end" fill="#333" stroke="#333" stroke-width="0.12">34</text>
<text x="20.00" y="407.97" font-size="4.9" text-anchor="end" fill="#333" stroke="#333" stroke-width="0.12">35</text>
<text x="20.00" y="401.80" font-size="4.9" text-anchor="end" fill="#333" stroke="#333" stroke-width="0.12">36</text>
<text x="20.00" y="395.63" font-size="4.9" text-anchor="end" fill="#333" stroke="#333" stroke-width="0.12">37</text>
<text x="20.00" y="389.46" font-size="4.9" text-anchor="end" fill="#333" stroke="#333" stroke-width="0.12">38</text>
<text x="20.00" y="383.29" font-size="4.9" text-anchor="end" fill="#333" stroke="#333" stroke-width="0.12">39</text>
<text x="20.00" y="377.12" font-size="4.9" text-anchor="end" fill="#333" stroke="#333" stroke-width="0.12">40</text>
<text x="20.00" y="370.95" font-size="4.9" text-anchor="end" fill="#333" stroke="#333" stroke-width="0.12">41</text>
<text x="29.20" y="626.30" font-size="5.0" text-anchor="middle" fill="#333" stroke="#333" stroke-width="0.12">0</text>
<text x="55.30" y="626.30" font-size="5.0" text-anchor="middle" fill="#333" stroke="#333" stroke-width="0.12">2</text>
<text x="84.90" y="626.30" font-size="5.0" text-anchor="middle" fill="#333" stroke="#333" stroke-width="0.12">4</text>
<text x="115.00" y="626.30" font-size="5.0" text-anchor="middle" fill="#333" stroke="#333" stroke-width="0.12">6</text>
<text x="141.20" y="626.30" font-size="5.0" text-anchor="middle" fill="#333" stroke="#333" stroke-width="0.12">8</text>
<text x="172.70" y="626.30" font-size="5.0" text-anchor="middle" fill="#333" stroke="#333" stroke-width="0.12">10</text>
<text x="203.00" y="626.30" font-size="5.0" text-anchor="middle" fill="#333" stroke="#333" stroke-width="0.12">12</text>
<text x="229.00" y="626.30" font-size="5.0" text-anchor="middle" fill="#333" stroke="#333" stroke-width="0.12">14</text>
<text x="103.57" y="636.80" font-size="7.0" textLength="61.40" lengthAdjust="spacingAndGlyphs" fill="#222" stroke="#222" stroke-width="0.3">Days post CAR T infusion</text>
<text x="-0.43" y="0" font-size="8.0" textLength="19.51" lengthAdjust="spacingAndGlyphs" transform="translate(8.80,501.30) rotate(-90)" fill="#222" stroke="#222" stroke-width="0.3">Patients</text>
<text x="1.90" y="340.60" font-size="12" text-anchor="start" font-weight="bold" fill="#000">B</text>
<text x="16.75" y="348.40" font-size="6.6" textLength="21.71" lengthAdjust="spacingAndGlyphs" font-weight="bold" fill="#111">ICANS</text>
<text x="15.14" y="357.40" font-size="6.6" textLength="25.10" lengthAdjust="spacingAndGlyphs" font-weight="bold" fill="#111">Therapy</text>
<rect x="46.0" y="343.10" width="6.2" height="6" fill="#6b6c7e"/>
<text x="55.47" y="347.80" font-size="5.6" textLength="12.77" lengthAdjust="spacingAndGlyphs" fill="#333" stroke="#333" stroke-width="0.1">None</text>
<rect x="74.9" y="343.10" width="6.2" height="6" fill="#3eb0e2"/>
<text x="84.12" y="347.80" font-size="5.6" textLength="20.15" lengthAdjust="spacingAndGlyphs" fill="#333" stroke="#333" stroke-width="0.1">Grade 1</text>
<rect x="111.2" y="343.10" width="6.2" height="6" fill="#123f7a"/>
<text x="120.62" y="347.80" font-size="5.6" textLength="20.38" lengthAdjust="spacingAndGlyphs" fill="#333" stroke="#333" stroke-width="0.1">Grade 2</text>
<rect x="147.4" y="343.10" width="6.2" height="6" fill="#e5197f"/>
<text x="156.62" y="347.80" font-size="5.6" textLength="20.35" lengthAdjust="spacingAndGlyphs" fill="#333" stroke="#333" stroke-width="0.1">Grade 3</text>
<rect x="183.7" y="343.10" width="6.2" height="6" fill="#3fae45"/>
<text x="192.92" y="347.80" font-size="5.6" textLength="20.37" lengthAdjust="spacingAndGlyphs" fill="#333" stroke="#333" stroke-width="0.1">Grade 4</text>
<rect x="220.1" y="343.10" width="6.2" height="6" fill="#cfcfd4"/>
<text x="229.17" y="347.80" font-size="5.6" textLength="7.45" lengthAdjust="spacingAndGlyphs" fill="#333" stroke="#333" stroke-width="0.1">NA</text>
<rect x="45.8" y="354.60" width="16.7" height="1.25" fill="#f5cf8b"/>
<text x="65.49" y="356.80" font-size="5.6" textLength="19.50" lengthAdjust="spacingAndGlyphs" fill="#333" stroke="#333" stroke-width="0.1">Tisa-cel</text>
<rect x="90.2" y="354.60" width="16" height="1.25" fill="#e8900f"/>
<text x="109.67" y="356.80" font-size="5.6" textLength="15.87" lengthAdjust="spacingAndGlyphs" fill="#333" stroke="#333" stroke-width="0.1">Axi-cel</text>
<text x="260.20" y="10.40" font-size="12" text-anchor="start" font-weight="bold" fill="#000">C</text>
<rect x="303.80" y="138.90" width="35.45" height="30.60" fill="#ee7418"/>
<rect x="338.85" y="138.90" width="35.45" height="30.60" fill="#f9d5bb"/>
<rect x="373.90" y="138.90" width="35.45" height="30.60" fill="#f08a45"/>
<rect x="444.00" y="138.90" width="35.45" height="30.60" fill="#fdefe6"/>
<rect x="338.85" y="108.40" width="35.45" height="30.60" fill="#f7c4a3"/>
<rect x="373.90" y="108.40" width="35.45" height="30.60" fill="#f7c4a3"/>
<rect x="408.95" y="108.40" width="35.45" height="30.60" fill="#fdefe6"/>
<rect x="373.90" y="77.90" width="35.45" height="30.60" fill="#fdefe6"/>
<rect x="338.85" y="47.40" width="35.45" height="30.60" fill="#fbe1d0"/>
<rect x="373.90" y="47.40" width="35.45" height="30.60" fill="#f2a472"/>
<rect x="373.90" y="16.90" width="35.45" height="30.60" fill="#fdefe6"/>
<text x="312.96" y="156.70" font-size="7.2" textLength="16.62" lengthAdjust="spacingAndGlyphs" fill="#2a2a2a" stroke="#2a2a2a" stroke-width="0.22">24%</text>
<text x="350.20" y="156.70" font-size="7.2" textLength="12.22" lengthAdjust="spacingAndGlyphs" fill="#2a2a2a" stroke="#2a2a2a" stroke-width="0.22">7%</text>
<text x="383.06" y="156.70" font-size="7.2" textLength="16.62" lengthAdjust="spacingAndGlyphs" fill="#2a2a2a" stroke="#2a2a2a" stroke-width="0.22">20%</text>
<text x="420.39" y="156.70" font-size="7.2" textLength="12.13" lengthAdjust="spacingAndGlyphs" fill="#2a2a2a" stroke="#2a2a2a" stroke-width="0.22">0%</text>
<text x="455.35" y="156.70" font-size="7.2" textLength="12.22" lengthAdjust="spacingAndGlyphs" fill="#2a2a2a" stroke="#2a2a2a" stroke-width="0.22">2%</text>
<text x="315.24" y="126.20" font-size="7.2" textLength="12.13" lengthAdjust="spacingAndGlyphs" fill="#2a2a2a" stroke="#2a2a2a" stroke-width="0.22">0%</text>
<text x="347.79" y="126.20" font-size="7.2" textLength="16.84" lengthAdjust="spacingAndGlyphs" fill="#2a2a2a" stroke="#2a2a2a" stroke-width="0.22">10%</text>
<text x="382.84" y="126.20" font-size="7.2" textLength="16.84" lengthAdjust="spacingAndGlyphs" fill="#2a2a2a" stroke="#2a2a2a" stroke-width="0.22">10%</text>
<text x="420.30" y="126.20" font-size="7.2" textLength="12.22" lengthAdjust="spacingAndGlyphs" fill="#2a2a2a" stroke="#2a2a2a" stroke-width="0.22">2%</text>
<text x="455.44" y="126.20" font-size="7.2" textLength="12.13" lengthAdjust="spacingAndGlyphs" fill="#2a2a2a" stroke="#2a2a2a" stroke-width="0.22">0%</text>
<text x="315.24" y="95.70" font-size="7.2" textLength="12.13" lengthAdjust="spacingAndGlyphs" fill="#2a2a2a" stroke="#2a2a2a" stroke-width="0.22">0%</text>
<text x="350.29" y="95.70" font-size="7.2" textLength="12.13" lengthAdjust="spacingAndGlyphs" fill="#2a2a2a" stroke="#2a2a2a" stroke-width="0.22">0%</text>
<text x="385.25" y="95.70" font-size="7.2" textLength="12.22" lengthAdjust="spacingAndGlyphs" fill="#2a2a2a" stroke="#2a2a2a" stroke-width="0.22">2%</text>
<text x="420.39" y="95.70" font-size="7.2" textLength="12.13" lengthAdjust="spacingAndGlyphs" fill="#2a2a2a" stroke="#2a2a2a" stroke-width="0.22">0%</text>
<text x="455.44" y="95.70" font-size="7.2" textLength="12.13" lengthAdjust="spacingAndGlyphs" fill="#2a2a2a" stroke="#2a2a2a" stroke-width="0.22">0%</text>
<text x="315.24" y="65.20" font-size="7.2" textLength="12.13" lengthAdjust="spacingAndGlyphs" fill="#2a2a2a" stroke="#2a2a2a" stroke-width="0.22">0%</text>
<text x="350.29" y="65.20" font-size="7.2" textLength="12.13" lengthAdjust="spacingAndGlyphs" fill="#2a2a2a" stroke="#2a2a2a" stroke-width="0.22">5%</text>
<text x="382.84" y="65.20" font-size="7.2" textLength="16.84" lengthAdjust="spacingAndGlyphs" fill="#2a2a2a" stroke="#2a2a2a" stroke-width="0.22">15%</text>
<text x="420.39" y="65.20" font-size="7.2" textLength="12.13" lengthAdjust="spacingAndGlyphs" fill="#2a2a2a" stroke="#2a2a2a" stroke-width="0.22">0%</text>
<text x="455.44" y="65.20" font-size="7.2" textLength="12.13" lengthAdjust="spacingAndGlyphs" fill="#2a2a2a" stroke="#2a2a2a" stroke-width="0.22">0%</text>
<text x="315.24" y="34.70" font-size="7.2" textLength="12.13" lengthAdjust="spacingAndGlyphs" fill="#2a2a2a" stroke="#2a2a2a" stroke-width="0.22">0%</text>
<text x="350.29" y="34.70" font-size="7.2" textLength="12.13" lengthAdjust="spacingAndGlyphs" fill="#2a2a2a" stroke="#2a2a2a" stroke-width="0.22">0%</text>
<text x="385.25" y="34.70" font-size="7.2" textLength="12.22" lengthAdjust="spacingAndGlyphs" fill="#2a2a2a" stroke="#2a2a2a" stroke-width="0.22">2%</text>
<text x="420.39" y="34.70" font-size="7.2" textLength="12.13" lengthAdjust="spacingAndGlyphs" fill="#2a2a2a" stroke="#2a2a2a" stroke-width="0.22">0%</text>
<text x="455.44" y="34.70" font-size="7.2" textLength="12.13" lengthAdjust="spacingAndGlyphs" fill="#2a2a2a" stroke="#2a2a2a" stroke-width="0.22">0%</text>
<path d="M300.4,14.4 H482.5 V172.1 H300.4 Z" fill="none" stroke="#111" stroke-width="1.2"/>
<line x1="321.32" y1="172.1" x2="321.32" y2="175.6" stroke="#111" stroke-width="1"/>
<text x="318.93" y="186.20" font-size="7.9" textLength="4.80" lengthAdjust="spacingAndGlyphs" fill="#333" stroke="#333" stroke-width="0.08">0</text>
<line x1="296.9" y1="154.20" x2="300.4" y2="154.20" stroke="#111" stroke-width="1"/>
<text x="288.75" y="156.95" font-size="7.9" textLength="4.92" lengthAdjust="spacingAndGlyphs" fill="#333" stroke="#333" stroke-width="0.08">0</text>
<line x1="356.38" y1="172.1" x2="356.38" y2="175.6" stroke="#111" stroke-width="1"/>
<text x="353.62" y="186.20" font-size="7.9" textLength="5.24" lengthAdjust="spacingAndGlyphs" fill="#333" stroke="#333" stroke-width="0.08">1</text>
<line x1="296.9" y1="123.70" x2="300.4" y2="123.70" stroke="#111" stroke-width="1"/>
<text x="288.38" y="126.45" font-size="7.9" textLength="5.37" lengthAdjust="spacingAndGlyphs" fill="#333" stroke="#333" stroke-width="0.08">1</text>
<line x1="391.42" y1="172.1" x2="391.42" y2="175.6" stroke="#111" stroke-width="1"/>
<text x="388.92" y="186.20" font-size="7.9" textLength="5.01" lengthAdjust="spacingAndGlyphs" fill="#333" stroke="#333" stroke-width="0.08">2</text>
<line x1="296.9" y1="93.20" x2="300.4" y2="93.20" stroke="#111" stroke-width="1"/>
<text x="288.64" y="95.95" font-size="7.9" textLength="5.13" lengthAdjust="spacingAndGlyphs" fill="#333" stroke="#333" stroke-width="0.08">2</text>
<line x1="426.47" y1="172.1" x2="426.47" y2="175.6" stroke="#111" stroke-width="1"/>
<text x="424.08" y="186.20" font-size="7.9" textLength="4.85" lengthAdjust="spacingAndGlyphs" fill="#333" stroke="#333" stroke-width="0.08">3</text>
<line x1="296.9" y1="62.70" x2="300.4" y2="62.70" stroke="#111" stroke-width="1"/>
<text x="288.74" y="65.45" font-size="7.9" textLength="4.97" lengthAdjust="spacingAndGlyphs" fill="#333" stroke="#333" stroke-width="0.08">3</text>
<line x1="461.52" y1="172.1" x2="461.52" y2="175.6" stroke="#111" stroke-width="1"/>
<text x="459.27" y="186.20" font-size="7.9" textLength="4.56" lengthAdjust="spacingAndGlyphs" fill="#333" stroke="#333" stroke-width="0.08">4</text>
<line x1="296.9" y1="32.20" x2="300.4" y2="32.20" stroke="#111" stroke-width="1"/>
<text x="288.89" y="34.95" font-size="7.9" textLength="4.67" lengthAdjust="spacingAndGlyphs" fill="#333" stroke="#333" stroke-width="0.08">4</text>
<text x="358.25" y="200.00" font-size="9.5" textLength="65.58" lengthAdjust="spacingAndGlyphs" fill="#222" stroke="#222" stroke-width="0.4">Maximum CRS grade</text>
<text x="-0.55" y="0" font-size="9.5" textLength="71.68" lengthAdjust="spacingAndGlyphs" transform="translate(282.90,128.90) rotate(-90)" fill="#222" stroke="#222" stroke-width="0.4">Maximum ICANS grade</text>
<defs><linearGradient id="cb" x1="0" x2="1" y1="0" y2="0"><stop offset="0" stop-color="#ffffff"/><stop offset="0.2" stop-color="#fdeadf"/><stop offset="0.44" stop-color="#f8c9ab"/><stop offset="0.44" stop-color="#f5a77d"/><stop offset="0.76" stop-color="#f39a67"/><stop offset="0.76" stop-color="#f08a4a"/><stop offset="0.85" stop-color="#f08a4a"/><stop offset="0.85" stop-color="#ee7520"/><stop offset="1" stop-color="#ee7420"/></linearGradient></defs>
<rect x="424.6" y="206.0" width="53.6" height="9.5" fill="url(#cb)"/>
<text x="401.56" y="224.00" font-size="5.6" textLength="19.08" lengthAdjust="spacingAndGlyphs" fill="#333">Percent</text>
<text x="423.98" y="224.00" font-size="5.6" textLength="3.04" lengthAdjust="spacingAndGlyphs" fill="#333">0</text>
<text x="434.48" y="224.00" font-size="5.6" textLength="3.04" lengthAdjust="spacingAndGlyphs" fill="#333">5</text>
<text x="444.08" y="224.00" font-size="5.6" textLength="6.26" lengthAdjust="spacingAndGlyphs" fill="#333">10</text>
<text x="455.08" y="224.00" font-size="5.6" textLength="6.26" lengthAdjust="spacingAndGlyphs" fill="#333">15</text>
<text x="465.23" y="224.00" font-size="5.6" textLength="6.11" lengthAdjust="spacingAndGlyphs" fill="#333">20</text>
<text x="260.20" y="251.60" font-size="12" text-anchor="start" font-weight="bold" fill="#000">D</text>
<text x="317.74" y="262.50" font-size="9.8" textLength="52.80" lengthAdjust="spacingAndGlyphs" font-weight="bold" fill="#111" stroke="#111" stroke-width="0.12">Comparison</text>
<text x="442.42" y="262.50" font-size="9.8" textLength="54.21" lengthAdjust="spacingAndGlyphs" font-weight="bold" fill="#111" stroke="#111" stroke-width="0.12">Significance</text>
<line x1="260.2" y1="271.7" x2="511.1" y2="271.7" stroke="#333" stroke-width="1.35"/>
<line x1="428.2" y1="247.9" x2="428.2" y2="342.3" stroke="#333" stroke-width="1.2"/>
<text x="285.36" y="288.00" font-size="8.4" textLength="117.84" lengthAdjust="spacingAndGlyphs" fill="#222" stroke="#222" stroke-width="0.18">Association of severity of CRS</text>
<text x="299.70" y="299.10" font-size="8.4" textLength="86.51" lengthAdjust="spacingAndGlyphs" fill="#222" stroke="#222" stroke-width="0.18">with severity of ICANS</text>
<text x="286.16" y="323.50" font-size="8.4" textLength="116.10" lengthAdjust="spacingAndGlyphs" fill="#222" stroke="#222" stroke-width="0.18">Association of time to onset of</text>
<text x="278.06" y="334.80" font-size="8.4" textLength="129.76" lengthAdjust="spacingAndGlyphs" fill="#222" stroke="#222" stroke-width="0.18">CRS with time to onset of ICANS</text>
<text x="454.6" y="293.3" font-size="8.2" fill="#222" stroke="#222" stroke-width="0.18" textLength="28.6" lengthAdjust="spacingAndGlyphs"><tspan font-style="italic">P</tspan> = .01</text>
<text x="454.6" y="328.7" font-size="8.2" fill="#222" stroke="#222" stroke-width="0.18" textLength="28.6" lengthAdjust="spacingAndGlyphs"><tspan font-style="italic">P</tspan> = .01</text>
<text x="260.30" y="369.70" font-size="12" text-anchor="start" font-weight="bold" fill="#000">E</text>
<rect x="273.75" y="376.8" width="202.35" height="18.10" fill="#c6c8df"/>
<rect x="273.75" y="411.8" width="202.35" height="17.60" fill="#c6c8df"/>
<rect x="273.75" y="446.4" width="202.35" height="18.90" fill="#c6c8df"/>
<rect x="273.75" y="482.2" width="202.35" height="18.10" fill="#c6c8df"/>
<rect x="273.75" y="517.5" width="161.75" height="18.00" fill="#d6e8f7"/>
<rect x="273.75" y="552.5" width="117.75" height="17.90" fill="#d6e8f7"/>
<rect x="273.5" y="624.2" width="118.20" height="21.80" fill="#d6e8f7"/>
<text x="343.88" y="388.40" font-size="8.1" textLength="62.22" lengthAdjust="spacingAndGlyphs" fill="#2b2c36" stroke="#2b2c36" stroke-width="0.12">Plasma Collection</text>
<text x="339.29" y="423.30" font-size="8.1" textLength="71.74" lengthAdjust="spacingAndGlyphs" fill="#2b2c36" stroke="#2b2c36" stroke-width="0.12">Metabolite Extraction</text>
<text x="285.50" y="458.80" font-size="8.1" textLength="179.07" lengthAdjust="spacingAndGlyphs" fill="#2b2c36" stroke="#2b2c36" stroke-width="0.12">Identification and Quantification using UP-LCMS/MS</text>
<text x="312.75" y="494.30" font-size="8.1" textLength="124.65" lengthAdjust="spacingAndGlyphs" fill="#2b2c36" stroke="#2b2c36" stroke-width="0.12">Quality Control and Data Processing</text>
<text x="318.66" y="529.20" font-size="8.1" textLength="72.61" lengthAdjust="spacingAndGlyphs" fill="#2b2c36" stroke="#2b2c36" stroke-width="0.12">Associations Analysis</text>
<text x="291.55" y="564.60" font-size="8.1" textLength="81.93" lengthAdjust="spacingAndGlyphs" fill="#2b2c36" stroke="#2b2c36" stroke-width="0.12">Severity of CRS/ICANS</text>
<text x="281.54" y="636.90" font-size="8.1" textLength="103.23" lengthAdjust="spacingAndGlyphs" fill="#2b2c36" stroke="#2b2c36" stroke-width="0.12">Time-to-Onset of CRS/ICANS</text>
<line x1="375.3" y1="395.0" x2="375.3" y2="406.29999999999995" stroke="#1a1a1a" stroke-width="1.3"/><path d="M372.40000000000003,404.79999999999995 Q375.3,407.4 378.2,404.79999999999995 L375.3,411.4 Z" fill="#111"/>
<line x1="375.3" y1="429.5" x2="375.3" y2="441.09999999999997" stroke="#1a1a1a" stroke-width="1.3"/><path d="M372.40000000000003,439.59999999999997 Q375.3,442.2 378.2,439.59999999999997 L375.3,446.2 Z" fill="#111"/>
<line x1="375.1" y1="465.4" x2="375.1" y2="476.9" stroke="#1a1a1a" stroke-width="1.3"/><path d="M372.20000000000005,475.4 Q375.1,478.0 378.0,475.4 L375.1,482.0 Z" fill="#111"/>
<line x1="354.6" y1="500.4" x2="354.6" y2="512.1999999999999" stroke="#1a1a1a" stroke-width="1.3"/><path d="M351.70000000000005,510.69999999999993 Q354.6,513.3 357.5,510.69999999999993 L354.6,517.3 Z" fill="#111"/>
<line x1="332.5" y1="535.6" x2="332.5" y2="547.1999999999999" stroke="#1a1a1a" stroke-width="1.3"/><path d="M329.6,545.6999999999999 Q332.5,548.3 335.4,545.6999999999999 L332.5,552.3 Z" fill="#111"/>
<path d="M476.3,420.5 H479.6 Q481.2,420.5 481.2,422.1 V489.3 Q481.2,490.9 479.6,490.9 H476.3 M481.2,455.5 H484" fill="none" stroke="#222" stroke-width="1.1"/>
<path d="M391.5,561.5 H395.0 Q396.6,561.5 396.6,563.1 V632.6 Q396.6,634.2 395.0,634.2 H391.5 M396.6,597.5 H399.6" fill="none" stroke="#222" stroke-width="1.1"/>
<rect x="492.3" y="426.0" width="28" height="60.3" fill="#f0c9bf"/>
<text x="-0.59" y="0" font-size="8.1" textLength="38.92" lengthAdjust="spacingAndGlyphs" transform="translate(503.00,474.90) rotate(-90)" fill="#2b2c36" stroke="#2b2c36" stroke-width="0.12">Untargeted</text>
<text x="-0.62" y="0" font-size="8.1" textLength="47.68" lengthAdjust="spacingAndGlyphs" transform="translate(514.00,479.40) rotate(-90)" fill="#2b2c36" stroke="#2b2c36" stroke-width="0.12">Metabolomics</text>
<rect x="408.0" y="580.9" width="78.2" height="33.4" fill="#f0c9bf"/>
<text x="413.85" y="595.50" font-size="8.1" textLength="67.53" lengthAdjust="spacingAndGlyphs" fill="#2b2c36" stroke="#2b2c36" stroke-width="0.12">Targeted Metabolite</text>
<text x="431.16" y="605.00" font-size="8.1" textLength="32.35" lengthAdjust="spacingAndGlyphs" fill="#2b2c36" stroke="#2b2c36" stroke-width="0.12">Validation</text>
</svg>
</body></html>
